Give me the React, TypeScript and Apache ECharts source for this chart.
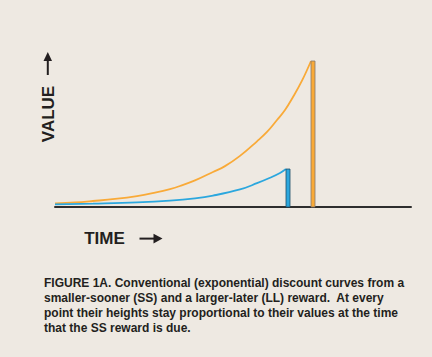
import React, { useEffect, useRef } from "react";
import * as echarts from "echarts";

// Time positions (arbitrary units, 0 = start of curves) and discounted values (LL reward = 100)
const llTimes = [0, 20, 38, 60, 82, 100, 115, 125, 140, 158, 170, 185, 202, 212, 222, 230, 238, 247, 256];
const llValues = [2.4, 3.1, 4.1, 5.5, 7.5, 9.9, 12.3, 14.4, 18.2, 24.0, 28.0, 35.0, 45.0, 51.4, 59.6, 66.4, 75.3, 86.5, 100];
const ssTimes = [0, 38, 82, 115, 140, 158, 185, 202, 215, 225, 231];
const ssValues = [1.8, 2.3, 3.1, 4.3, 5.9, 7.8, 12.0, 16.3, 20.0, 23.3, 26.0];
const rewardTimes = [231, 256];
const rewardValues = [26.0, 100];
const rewardNames = ["SS", "LL"];

const captionLines = [
  "FIGURE 1A. Conventional (exponential) discount curves from a",
  "smaller-sooner (SS) and a larger-later (LL) reward.  At every",
  "point their heights stay proportional to their values at the time",
  "that the SS reward is due.",
];

const ORANGE = "#F9AA38";
const BLUE = "#2BA7DE";
const FONT = "'Liberation Sans', Arial, Helvetica, sans-serif";

export default function App() {
  const ref = useRef<HTMLDivElement>(null);
  useEffect(() => {
    if (!ref.current) return;
    const chart = echarts.init(ref.current, null, { renderer: "svg" });
    const zip = (xs: number[], ys: number[]) => xs.map((x, i) => [x, ys[i]]);
    chart.setOption({
      animation: false,
      backgroundColor: "#EEE9E2",
      grid: { left: 55, right: 21, top: 61, bottom: 150 },
      xAxis: {
        type: "value",
        min: 0,
        max: 356,
        axisLine: { show: true, lineStyle: { color: "#2e2e2e", width: 2 } },
        axisTick: { show: false },
        axisLabel: { show: false },
        splitLine: { show: false },
      },
      yAxis: {
        type: "value",
        min: 0,
        max: 100,
        axisLine: { show: false },
        axisTick: { show: false },
        axisLabel: { show: false },
        splitLine: { show: false },
      },
      series: [
        {
          type: "line",
          name: "LL",
          data: zip(llTimes, llValues),
          smooth: 0.4,
          showSymbol: false,
          lineStyle: { color: ORANGE, width: 1.8 },
          z: 3,
        },
        {
          type: "line",
          name: "SS",
          data: zip(ssTimes, ssValues),
          smooth: 0.4,
          showSymbol: false,
          lineStyle: { color: BLUE, width: 1.8 },
          z: 3,
        },
        {
          type: "custom",
          name: "rewards",
          data: rewardTimes.map((t, i) => [t, rewardValues[i], i]),
          renderItem: (params: any, api: any) => {
            const t = api.value(0);
            const v = api.value(1);
            const idx = api.value(2);
            const p0 = api.coord([t, 0]);
            const p1 = api.coord([t, v]);
            const isSS = rewardNames[idx] === "SS";
            return {
              type: "rect",
              shape: { x: p0[0], y: p1[1], width: 4, height: p0[1] - p1[1] },
              style: {
                fill: isSS ? BLUE : ORANGE,
                stroke: isSS ? "#1d4f6a" : "#857a70",
                lineWidth: 0.8,
              },
            };
          },
          z: 4,
        },
      ],
      graphic: [
        {
          type: "text",
          x: 48,
          y: 114,
          rotation: Math.PI / 2,
          style: {
            text: "VALUE",
            font: `bold 17px ${FONT}`,
            fill: "#231f20",
            align: "center",
            verticalAlign: "middle",
          },
        },
        {
          type: "line",
          shape: { x1: 47.8, y1: 60, x2: 47.8, y2: 75 },
          style: { stroke: "#231f20", lineWidth: 2 },
        },
        {
          type: "polygon",
          shape: { points: [[47.8, 52], [43.5, 61], [52, 61]] },
          style: { fill: "#231f20" },
        },
        {
          type: "text",
          x: 104.5,
          y: 238.6,
          style: {
            text: "TIME",
            font: `bold 17px ${FONT}`,
            fill: "#231f20",
            align: "center",
            verticalAlign: "middle",
          },
        },
        {
          type: "line",
          shape: { x1: 139.5, y1: 238.6, x2: 155, y2: 238.6 },
          style: { stroke: "#231f20", lineWidth: 2 },
        },
        {
          type: "polygon",
          shape: { points: [[162.5, 238.6], [153.5, 233.8], [153.5, 243.4]] },
          style: { fill: "#231f20" },
        },
        {
          type: "text",
          left: 44,
          top: 275,
          style: {
            text: captionLines.join("\n"),
            font: `bold 12px ${FONT}`,
            lineHeight: 15,
            fill: "#231f20",
          },
        },
      ],
    });
    return () => chart.dispose();
  }, []);
  return (
    <div
      ref={ref}
      style={{ position: "absolute", left: 0, top: 0, width: 432, height: 357 }}
    />
  );
}
